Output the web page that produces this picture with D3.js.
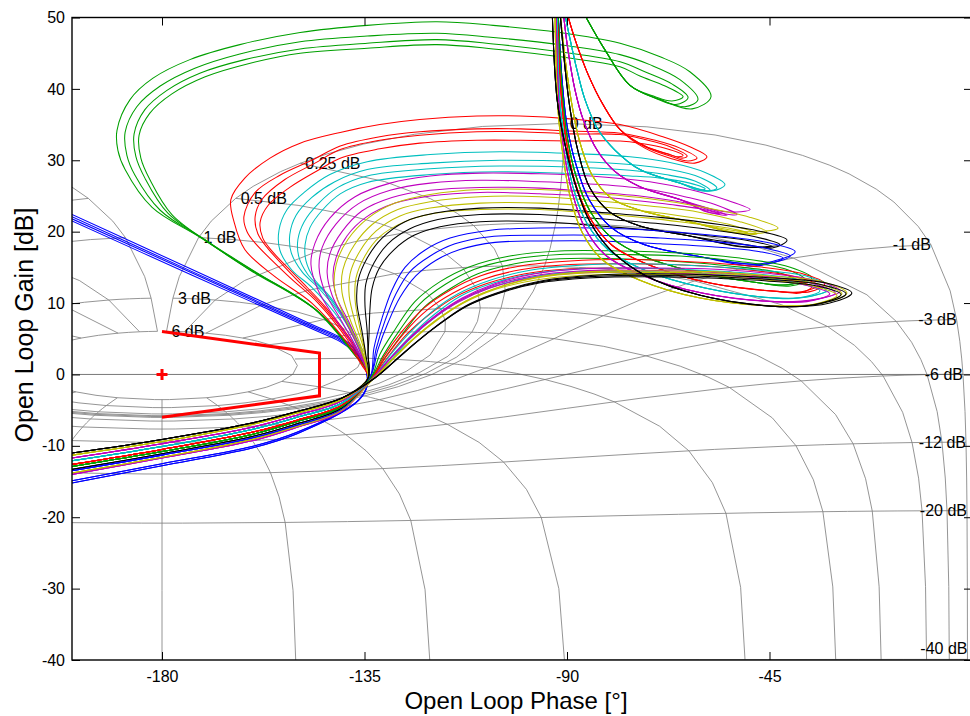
<!DOCTYPE html>
<html><head><meta charset="utf-8">
<script src="https://cdn.jsdelivr.net/npm/d3@7"></script>
<style>
  body { margin: 0; background: #fff; }
  svg text { font-family: Arial, "Liberation Sans", Helvetica, sans-serif; fill: #000; }
</style>
</head>
<body>
<svg id="chart" width="970" height="716"></svg>
<script>
// ---- axis ticks ----
const phaseTicks = [-180, -135, -90, -45];
const gainTicks = [50, 40, 30, 20, 10, 0, -10, -20, -30, -40];

// ---- Nichols grid: labelled closed-loop gains (dB) and closed-loop phases (deg) ----
const clGainLevels = [6, 3, 1, 0.5, 0.25, 0, -1, -3, -6, -12, -20, -40];
const clPhaseLevels = [1, 5, 10, 20, 30, 50, 90, 120, 150, 180];
// sampling used to trace the grid lines
const gainSamples = [6, 3, 2, 1, 0.75, 0.5, 0.4, 0.3, 0.25, 0.2, 0.15, 0.1, 0.05, 0, -0.05, -0.1, -0.15, -0.2, -0.25, -0.3, -0.4, -0.5, -0.75, -1, -2, -3, -4, -5, -6, -9, -12, -16, -20, -30, -40, -50, -60];
const phaseSamples = [1, 2, 3, 4, 5, 7.5, 10, 15, 20, 25, 30, 45, 60, 75, 90, 105, 120, 135, 150, 175, 180];

// ---- stability margin boundary and critical point ----
const marginBound = [[-180, 6], [-145, 3], [-145, -3], [-180, -6]];
const criticalPoint = [-180, 0];

// ---- open-loop responses [phase deg, gain dB] ----
// low-gain branches shared by several responses
const tailA = [[-140,-3.3],[-150,-5.2],[-160,-6.8],[-180,-9.1],[-200,-11.0]];
const tailB = [[-140,-3.5],[-150,-5.4],[-160,-7.0],[-180,-9.4],[-200,-11.3]];
const tailC = [[-140,-3.7],[-150,-5.7],[-160,-7.4],[-180,-9.7],[-200,-11.7]];
const tailD = [[-140,-4.0],[-150,-6.0],[-160,-7.7],[-180,-10.1],[-200,-12.1]];
const tailE = [[-140,-4.3],[-150,-6.4],[-160,-8.1],[-180,-10.5],[-200,-12.6]];
const tailF = [[-140,-4.5],[-150,-6.6],[-160,-8.4],[-180,-10.8],[-200,-12.9]];
const tailG = [[-140,-4.7],[-150,-6.9],[-160,-8.7],[-180,-11.1],[-200,-13.3]];
const tailH = [[-140,-4.9],[-150,-7.1],[-160,-8.9],[-180,-11.3],[-200,-13.5]];
const tailI = [[-140,-5.0],[-150,-7.3],[-160,-9.1],[-180,-11.6],[-200,-13.8]];
const tailJ = [[-140,-5.1],[-150,-7.4],[-160,-9.3],[-180,-11.7],[-200,-14.0]];

// high-gain branches shared inside each family
const gEntry = [[-86.7,51.1],[-81.6,45.5],[-76.0,40.5]];
const rEntry = [[-90.2,51.1],[-88.2,46.9],[-85.3,42.0],[-82.0,37.8],[-78.2,34.3]];
const cEntry = [[-90.7,51.1],[-89.3,46.9],[-87.8,42.7],[-86.0,38.5],[-83.1,34.3],[-79.3,31.4],[-73.8,28.7],[-64.9,26.8]];
const mEntry = [[-90.9,51.1],[-89.8,45.5],[-88.2,39.8],[-86.4,35.7],[-83.3,31.4],[-79.3,28.4],[-73.8,26.3],[-64.9,24.5]];
const yEntry = [[-91.6,51.1],[-90.4,44.1],[-89.1,38.5],[-87.3,32.9],[-84.4,27.9],[-80.2,24.7],[-73.8,23.0],[-62.7,21.4]];
const kEntry = [[-91.6,51.1],[-90.4,42.7],[-89.3,37.1],[-87.6,31.4],[-84.9,26.1],[-80.4,22.7],[-73.8,20.8],[-62.7,19.4]];
const bEntry = [[-92.0,51.1],[-91.1,41.3],[-90.0,34.9],[-88.0,29.4],[-85.1,24.5],[-80.2,20.6],[-72.9,18.2],[-60.4,16.5]];
const g8Entry = [[-92.0,51.1],[-91.1,39.8],[-90.0,33.5],[-88.0,27.8],[-84.9,22.9],[-80.0,19.1],[-71.6,16.2],[-60.4,14.2],[-47.1,12.8]];
const r9Entry = [[-92.2,51.1],[-91.3,39.1],[-90.2,32.9],[-88.2,26.9],[-84.9,21.9],[-80.0,18.1],[-71.6,15.3],[-58.2,12.8],[-42.7,11.6]];
const c10Entry = [[-92.2,51.1],[-91.6,38.5],[-90.4,32.1],[-88.7,26.3],[-85.6,21.2],[-80.9,17.5],[-72.7,14.6],[-59.3,12.1],[-43.8,10.7]];
const m11Entry = [[-92.4,51.1],[-91.8,37.8],[-90.7,31.4],[-88.9,25.6],[-86.0,20.5],[-81.6,16.8],[-73.3,13.9],[-60.0,11.4],[-43.8,10.2]];
const y12Entry = [[-92.7,51.1],[-92.0,37.1],[-90.9,30.7],[-89.3,24.9],[-86.7,20.0],[-82.2,16.1],[-73.8,13.2],[-60.4,10.7],[-43.8,9.6]];
const k13Entry = [[-93.3,51.1],[-92.2,38.5],[-90.4,32.1],[-87.8,25.9],[-84.9,21.4],[-80.4,17.5],[-72.7,13.9],[-60.4,11.1],[-42.7,9.5]];

const blue0a = [[-200,22.4],[-173.3,14.7],[-146.7,7.0],[-140.4,5.2],[-137.1,3.6],[-135.3,1.8],[-134.4,-0.2],[-134.7,-2.2],[-137.1,-4.1],[-150,-8.3],[-160,-10.3],[-180,-12.8],[-200,-15.2]];
const blue0b = [[-200,22.1],[-173.3,14.4],[-146.7,6.8],[-140.4,5.0],[-137.1,3.4],[-135.3,1.7],[-134.4,-0.3],[-134.8,-2.2],[-137.2,-4.1],[-150,-8.3],[-160,-10.3],[-180,-12.8],[-200,-15.2]];
const blue0c = [[-200,21.8],[-173.3,14.2],[-146.7,6.6],[-140.4,4.8],[-137.1,3.2],[-135.2,1.6],[-134.3,-0.3],[-134.7,-2.1],[-137.0,-4.0],[-150,-8.1],[-160,-10.1],[-180,-12.5],[-200,-14.9]];
const blue0d = [[-200,21.5],[-173.3,13.9],[-146.7,6.4],[-140.4,4.6],[-137.1,3.0],[-135.2,1.5],[-134.3,-0.4],[-134.6,-2.0],[-136.9,-3.9],[-150,-8.1],[-160,-10.1],[-180,-12.5],[-200,-14.9]];

const green1a = [...gEntry,[-69.3,38.5],[-62.2,37.2],[-58.0,38.9],[-62.7,42.4],[-69.3,44.5],[-78.2,46.4],[-91.6,47.9],[-106.4,48.9],[-118.9,49.4],[-134.4,48.9],[-149.3,47.9],[-162.7,46.2],[-173.8,44.1],[-182.0,41.5],[-187.1,38.5],[-190.0,34.2],[-189.8,31.4],[-188.2,28.7],[-182.2,23.4],[-171.8,19.3],[-161.6,15.1],[-146.7,9.5],[-138.2,3.5],[-134.2,-0.2],...tailF];
const green1b = [...gEntry,[-69.3,38.5],[-63.8,37.5],[-60.9,38.5],[-64.9,41.3],[-71.6,43.4],[-78.2,44.8],[-91.6,46.2],[-106.4,47.2],[-118.9,47.8],[-134.4,47.4],[-149.3,46.6],[-162.7,44.9],[-172.7,42.9],[-180.4,40.4],[-185.6,37.5],[-188.2,33.9],[-187.8,30.7],[-186.0,27.9],[-180.4,23.0],[-170.4,18.8],[-160.4,14.6],[-145.8,9.0],[-137.6,3.1],[-134.0,-0.3],...tailF];
const green1c = [...gEntry,[-70.4,38.7],[-65.8,37.8],[-63.1,38.8],[-66.7,40.7],[-72.7,42.4],[-78.2,43.8],[-91.6,45.2],[-106.4,46.3],[-118.9,46.9],[-134.4,46.4],[-149.3,45.6],[-161.6,44.1],[-171.6,42.2],[-178.9,39.8],[-183.8,37.1],[-186.2,33.7],[-185.8,30.5],[-183.8,27.5],[-178.7,22.6],[-169.3,18.4],[-159.3,14.4],[-145.3,8.8],[-137.3,2.9],[-134.0,-0.3],...tailF];
const green1d = [...gEntry,[-70.4,38.9],[-66.7,38.3],[-64.2,38.9],[-68.2,40.4],[-73.8,41.8],[-78.2,43.1],[-91.6,44.5],[-106.4,45.6],[-118.9,46.2],[-134.4,45.7],[-149.3,45.0],[-160.4,43.6],[-170.4,41.7],[-177.8,39.3],[-182.7,36.6],[-185.1,33.5],[-184.7,30.3],[-182.7,27.3],[-177.8,22.4],[-168.7,18.1],[-158.7,14.1],[-144.9,8.6],[-137.1,2.7],[-134.0,-0.3],...tailF];

const red2a = [...rEntry,[-72.7,31.7],[-67.1,30.3],[-61.6,29.6],[-58.9,30.5],[-62.7,31.9],[-68.7,33.3],[-78.2,35.0],[-89.3,35.8],[-100.4,36.2],[-110.0,36.2],[-122.7,35.7],[-131.6,35.0],[-140.4,33.9],[-149.3,32.4],[-156.0,30.3],[-161.6,27.5],[-164.7,24.5],[-164.0,21.4],[-161.6,17.5],[-154.9,13.7],[-146.7,10.0],[-139.3,4.8],[-135.6,1.3],[-134.2,-0.5],...tailE];
const red2b = [...rEntry,[-72.7,31.9],[-67.1,30.6],[-63.1,29.9],[-61.1,30.3],[-64.9,31.7],[-70.4,32.8],[-78.2,33.8],[-89.3,34.1],[-100.4,34.4],[-110.0,34.4],[-122.7,34.0],[-131.6,33.3],[-140.4,32.0],[-146.7,30.0],[-153.8,27.9],[-159.3,25.5],[-161.8,22.1],[-161.1,20.0],[-159.3,18.4],[-151.8,13.7],[-145.3,10.0],[-138.7,4.8],[-135.3,1.2],[-134.2,-0.5],...tailE];
const red2c = [...rEntry,[-72.7,32.0],[-67.6,30.9],[-64.4,30.3],[-63.3,30.6],[-67.1,31.9],[-72.7,32.9],[-78.2,33.6],[-89.3,33.7],[-100.4,34.0],[-110.0,34.0],[-122.7,33.5],[-131.6,32.8],[-140.4,31.5],[-146.0,29.6],[-152.7,27.3],[-157.8,24.5],[-159.3,22.1],[-158.7,19.7],[-156.4,17.6],[-150.4,13.5],[-144.4,9.7],[-138.2,4.7],[-134.9,1.2],[-134.2,-0.5],...tailE];
const red2d = [...rEntry,[-72.7,32.0],[-68.2,31.0],[-65.3,30.5],[-64.2,30.7],[-68.2,31.7],[-73.8,32.4],[-78.2,32.7],[-89.3,32.7],[-100.4,32.8],[-110.0,32.8],[-122.7,32.4],[-131.6,31.6],[-140.4,30.3],[-145.3,28.6],[-151.6,26.2],[-156.4,23.7],[-158.2,21.3],[-157.6,19.1],[-155.3,17.1],[-149.3,13.2],[-143.6,9.4],[-137.8,4.6],[-134.9,1.2],[-134.2,-0.5],...tailE];

const cyan3a = [...cEntry,[-57.8,25.7],[-54.9,26.6],[-59.3,28.3],[-67.1,29.7],[-76.0,30.5],[-87.1,30.9],[-104.9,31.2],[-120.4,30.8],[-134.4,29.8],[-142.7,28.0],[-148.2,25.6],[-152.2,23.1],[-154.0,20.2],[-153.8,17.4],[-151.1,14.6],[-146.7,12.2],[-140.4,7.6],[-136.0,2.7],[-134.2,-0.5],...tailD];
const cyan3b = [...cEntry,[-58.7,25.7],[-56.7,26.1],[-60.4,27.6],[-67.1,28.7],[-76.0,29.4],[-87.1,29.8],[-104.9,30.0],[-120.4,29.6],[-134.4,28.7],[-141.6,27.0],[-146.7,24.8],[-150.2,22.3],[-151.6,19.6],[-151.3,17.1],[-148.9,14.4],[-144.9,11.9],[-139.3,7.4],[-135.6,2.6],[-134.2,-0.5],...tailD];
const cyan3c = [...cEntry,[-60.0,25.7],[-58.2,25.8],[-61.6,27.1],[-68.2,28.0],[-76.0,28.6],[-87.1,29.0],[-104.9,29.2],[-120.4,28.8],[-134.4,27.8],[-140.9,26.2],[-145.3,23.9],[-148.4,21.4],[-149.8,18.9],[-149.6,16.5],[-147.6,14.0],[-143.8,11.5],[-138.7,7.0],[-135.3,2.5],[-134.2,-0.5],...tailD];
const cyan3d = [...cEntry,[-60.9,25.8],[-59.3,26.0],[-62.7,26.8],[-69.3,27.5],[-76.0,27.8],[-87.1,28.1],[-104.9,28.4],[-120.4,28.0],[-134.4,26.9],[-140.4,25.3],[-144.4,23.0],[-147.1,20.6],[-148.2,18.2],[-148.0,15.9],[-146.2,13.4],[-142.7,10.9],[-138.2,6.8],[-135.1,2.3],[-134.2,-0.5],...tailD];

const magenta4a = [...mEntry,[-54.9,22.8],[-49.3,23.1],[-54.9,24.5],[-62.7,25.9],[-71.6,27.0],[-82.7,27.7],[-96.0,28.1],[-109.3,28.2],[-120.4,27.8],[-129.3,26.8],[-137.1,24.9],[-142.7,21.9],[-146.0,18.4],[-146.9,15.4],[-145.3,11.8],[-141.6,7.9],[-136.9,3.5],[-134.4,0.6],[-134.2,-0.5],...tailJ];
const magenta4b = [...mEntry,[-56.0,22.6],[-52.2,22.4],[-57.1,23.8],[-63.8,24.9],[-71.6,25.9],[-82.7,26.6],[-96.0,27.0],[-109.3,27.2],[-120.4,26.8],[-129.3,25.8],[-136.4,23.9],[-141.3,21.1],[-144.4,17.8],[-145.1,15.0],[-143.8,11.6],[-140.2,7.6],[-136.4,3.3],[-134.4,0.6],[-134.2,-0.5],...tailJ];
const magenta4c = [...mEntry,[-57.8,22.6],[-54.4,22.3],[-59.3,23.4],[-66.0,24.3],[-73.8,25.0],[-82.7,25.5],[-96.0,26.1],[-109.3,26.2],[-120.4,25.8],[-128.9,24.8],[-135.6,22.9],[-140.0,20.0],[-142.7,16.9],[-143.3,14.2],[-142.2,11.1],[-139.1,7.3],[-136.0,3.2],[-134.4,0.6],[-134.2,-0.5],...tailC];
const magenta4d = [...mEntry,[-59.1,22.8],[-56.0,22.5],[-60.4,23.2],[-67.1,23.8],[-73.8,24.3],[-82.7,24.9],[-96.0,25.3],[-109.3,25.5],[-120.4,25.0],[-128.2,24.0],[-134.7,22.0],[-138.9,19.4],[-141.3,16.4],[-142.0,13.8],[-141.1,10.7],[-138.2,7.0],[-135.6,3.0],[-134.4,0.6],[-134.2,-0.5],...tailC];

const yellow5a = [...yEntry,[-50.4,20.0],[-43.1,20.5],[-49.3,22.0],[-60.4,23.5],[-71.6,24.6],[-82.7,25.3],[-96.0,25.9],[-109.3,25.9],[-120.4,25.2],[-128.2,24.0],[-134.2,21.9],[-138.7,18.9],[-141.3,15.4],[-141.6,11.8],[-139.3,7.9],[-136.0,3.7],[-134.4,0.6],[-134.2,-0.5],...tailI];
const yellow5b = [...yEntry,[-51.6,19.8],[-45.6,20.0],[-51.6,21.4],[-60.4,22.7],[-71.6,23.6],[-82.7,24.3],[-96.0,24.9],[-109.3,24.9],[-120.4,24.2],[-127.6,23.1],[-133.3,21.0],[-137.3,18.1],[-139.8,14.7],[-140.0,11.5],[-138.2,7.7],[-135.6,3.6],[-134.4,0.6],[-134.2,-0.5],...tailI];
const yellow5c = [...yEntry,[-52.7,19.8],[-47.8,19.7],[-52.7,20.8],[-60.4,21.8],[-71.6,22.8],[-82.7,23.5],[-96.0,24.0],[-109.3,24.0],[-120.4,23.3],[-127.1,22.2],[-132.4,20.1],[-136.0,17.3],[-138.2,14.1],[-138.4,11.0],[-137.1,7.4],[-135.1,3.4],[-134.4,0.6],[-134.2,-0.5],...tailB];
const yellow5d = [...yEntry,[-53.8,20.0],[-49.8,19.8],[-54.2,20.5],[-61.6,21.1],[-71.6,21.9],[-82.7,22.5],[-96.0,23.1],[-109.3,23.1],[-120.0,22.5],[-126.4,21.3],[-131.6,19.3],[-134.9,16.6],[-136.9,13.5],[-137.1,10.5],[-136.2,7.0],[-134.9,3.2],[-134.4,0.6],[-134.2,-0.5],...tailB];

const black6a = [...kEntry,[-49.3,18.1],[-44.4,17.7],[-41.1,18.8],[-46.0,19.9],[-56.0,21.0],[-69.3,22.0],[-82.7,22.7],[-96.0,23.3],[-109.3,23.3],[-119.3,22.6],[-126.0,21.4],[-131.1,19.1],[-134.4,16.3],[-136.4,13.2],[-136.7,10.1],[-135.6,6.2],[-134.7,2.7],[-134.2,-0.5],...tailG];
const black6b = [...kEntry,[-50.4,17.9],[-42.7,18.2],[-48.2,19.3],[-57.1,20.2],[-69.3,21.1],[-82.7,21.8],[-96.0,22.4],[-109.3,22.4],[-118.7,21.7],[-124.9,20.4],[-129.8,18.3],[-132.9,15.6],[-134.7,12.7],[-134.9,9.8],[-134.4,6.0],[-134.2,2.7],[-134.2,-0.5],...tailG];
const black6c = [...kEntry,[-51.6,17.9],[-44.4,17.9],[-49.3,18.7],[-58.2,19.4],[-69.3,20.1],[-82.7,20.8],[-96.0,21.4],[-109.3,21.4],[-118.2,20.7],[-124.0,19.5],[-128.4,17.5],[-131.6,15.0],[-133.3,12.1],[-133.8,9.0],[-134.0,5.5],[-134.2,2.7],[-134.2,-0.5],...tailA];

const blue7a = [...bEntry,[-47.1,15.5],[-39.3,17.2],[-44.9,18.4],[-56.0,19.4],[-69.3,20.1],[-82.7,20.5],[-96.0,20.5],[-107.1,20.2],[-116.0,19.1],[-121.6,17.4],[-126.0,15.0],[-128.9,11.8],[-131.1,7.9],[-132.9,3.7],[-133.8,-0.5],...tailH];
const blue7b = [...bEntry,[-47.1,15.4],[-40.4,16.6],[-46.0,17.7],[-57.1,18.6],[-69.3,19.1],[-82.7,19.5],[-96.0,19.5],[-107.1,19.3],[-114.9,18.3],[-120.4,16.6],[-124.9,14.4],[-128.0,11.3],[-130.4,7.6],[-132.4,3.6],[-133.8,-0.5],...tailH];
const blue7c = [...bEntry,[-48.2,15.2],[-42.0,16.3],[-47.1,17.2],[-57.8,17.9],[-69.3,18.3],[-82.7,18.7],[-96.0,18.7],[-106.0,18.5],[-113.8,17.5],[-119.1,16.0],[-123.6,13.8],[-127.1,10.8],[-129.8,7.2],[-132.0,3.5],[-133.8,-0.5],...tailH];

const green8a = [...g8Entry,[-40.4,12.4],[-35.6,13.5],[-40.4,15.0],[-51.6,16.3],[-64.9,17.0],[-78.2,17.3],[-91.6,17.3],[-102.7,16.6],[-111.6,15.1],[-118.2,13.0],[-123.8,10.2],[-128.2,6.3],[-131.6,2.8],[-133.6,-0.5],...tailF];
const green8b = [...g8Entry,[-40.9,12.6],[-37.1,13.3],[-41.6,14.8],[-52.7,15.9],[-64.9,16.6],[-78.2,16.8],[-91.6,16.8],[-102.2,16.1],[-110.7,14.7],[-117.1,12.6],[-122.7,9.9],[-127.3,6.1],[-130.9,2.6],[-133.6,-0.5],...tailF];
const green8c = [...g8Entry,[-42.2,12.5],[-38.7,13.0],[-42.7,14.2],[-53.8,15.2],[-64.9,15.8],[-78.2,16.2],[-91.6,16.2],[-101.6,15.5],[-109.8,14.1],[-116.0,12.0],[-121.6,9.5],[-126.4,5.8],[-130.4,2.4],[-133.6,-0.5],...tailF];

const red9a = [...r9Entry,[-36.0,11.6],[-32.7,12.7],[-38.2,14.2],[-49.3,15.2],[-62.7,15.8],[-76.0,16.1],[-89.3,15.9],[-100.4,15.2],[-109.3,13.8],[-116.0,11.8],[-121.8,9.3],[-126.7,6.0],[-130.7,2.5],[-133.3,-0.5],...tailE];
const red9b = [...r9Entry,[-37.6,11.6],[-34.2,12.5],[-39.3,13.7],[-50.4,14.7],[-62.7,15.3],[-76.0,15.5],[-89.3,15.4],[-100.0,14.7],[-108.7,13.3],[-115.3,11.4],[-121.1,9.0],[-126.2,5.8],[-130.4,2.3],[-133.3,-0.5],...tailE];
const red9c = [...r9Entry,[-38.2,11.4],[-35.6,12.3],[-40.4,13.2],[-51.6,14.1],[-62.7,14.6],[-76.0,14.9],[-89.3,14.8],[-99.3,14.1],[-108.0,12.7],[-114.7,10.9],[-120.4,8.5],[-125.8,5.5],[-130.2,2.1],[-133.3,-0.5],...tailE];

const cyan10a = [...c10Entry,[-35.6,11.0],[-31.1,12.1],[-36.4,13.7],[-47.1,14.6],[-60.4,15.2],[-73.8,15.5],[-87.1,15.3],[-98.2,14.6],[-107.1,13.2],[-114.2,11.3],[-120.0,8.8],[-125.3,5.6],[-129.8,2.3],[-133.1,-0.5],...tailD];
const cyan10b = [...c10Entry,[-37.1,10.8],[-32.4,11.8],[-37.8,13.2],[-48.2,14.1],[-60.4,14.6],[-73.8,14.9],[-87.1,14.8],[-97.8,14.1],[-106.4,12.8],[-113.6,11.0],[-119.3,8.5],[-124.9,5.3],[-129.6,2.1],[-133.1,-0.5],...tailD];
const cyan10c = [...c10Entry,[-38.7,10.7],[-33.8,11.7],[-38.9,12.8],[-49.3,13.7],[-61.6,14.2],[-74.9,14.4],[-87.1,14.4],[-97.3,13.7],[-106.0,12.4],[-113.1,10.6],[-118.9,8.2],[-124.7,5.1],[-129.3,1.9],[-133.1,-0.5],...tailD];

const magenta11a = [...m11Entry,[-34.2,10.6],[-29.3,11.7],[-34.9,13.2],[-46.0,14.2],[-59.3,14.8],[-72.7,14.9],[-86.0,14.8],[-97.1,14.1],[-106.0,12.7],[-113.3,10.7],[-119.1,8.3],[-124.7,5.3],[-129.3,2.2],[-133.1,-0.5],...tailC];
const magenta11b = [...m11Entry,[-35.6,10.4],[-30.4,11.4],[-35.8,12.8],[-47.1,13.8],[-60.4,14.4],[-73.8,14.6],[-87.1,14.5],[-97.8,13.8],[-106.7,12.4],[-113.8,10.4],[-119.6,8.0],[-125.1,5.0],[-129.6,2.0],[-133.1,-0.5],...tailC];
const magenta11c = [...m11Entry,[-36.7,10.2],[-31.6,11.3],[-36.9,12.5],[-48.0,13.5],[-61.1,14.1],[-74.4,14.3],[-87.6,14.2],[-98.2,13.5],[-107.1,12.1],[-114.2,10.1],[-120.0,7.7],[-125.3,4.8],[-129.8,1.9],[-133.1,-0.5],...tailJ];

const yellow12a = [...y12Entry,[-33.1,10.0],[-27.8,11.4],[-33.3,13.0],[-44.9,13.8],[-58.2,14.4],[-71.6,14.5],[-84.9,14.4],[-96.0,13.7],[-104.9,12.3],[-112.4,10.3],[-118.2,7.9],[-124.0,5.0],[-128.9,2.0],[-132.9,-0.5],...tailB];
const yellow12b = [...y12Entry,[-34.4,9.9],[-28.9,11.3],[-34.4,12.7],[-46.0,13.6],[-59.3,14.2],[-72.7,14.3],[-86.0,14.2],[-96.9,13.5],[-105.6,12.1],[-113.1,10.1],[-118.9,7.7],[-124.4,4.8],[-129.1,1.9],[-132.9,-0.5],...tailB];
const yellow12c = [...y12Entry,[-35.3,9.8],[-30.0,11.1],[-35.3,12.4],[-46.9,13.3],[-60.0,13.9],[-73.3,14.0],[-86.4,13.9],[-97.3,13.2],[-106.0,11.9],[-113.3,9.9],[-119.1,7.6],[-124.7,4.7],[-129.3,1.8],[-132.9,-0.5],...tailI];

const black13a = [...k13Entry,[-31.6,10.0],[-26.7,11.4],[-32.4,12.8],[-43.8,13.5],[-57.1,13.9],[-70.4,14.1],[-83.8,13.9],[-94.9,13.2],[-103.8,11.8],[-111.6,9.9],[-117.3,7.6],[-123.1,4.7],[-128.2,1.9],[-132.7,-0.5],...tailA];
const black13b = [...k13Entry,[-33.8,9.9],[-28.0,11.3],[-33.6,12.6],[-44.9,13.3],[-58.2,13.7],[-71.3,13.9],[-84.7,13.7],[-95.6,13.0],[-104.4,11.6],[-112.0,9.7],[-117.6,7.4],[-123.3,4.6],[-128.4,1.8],[-132.7,-0.5],...tailA];
const black13c = [...k13Entry,[-34.9,9.8],[-29.1,11.2],[-34.4,12.4],[-45.6,13.1],[-58.9,13.5],[-72.0,13.7],[-85.3,13.5],[-96.2,12.8],[-104.9,11.4],[-112.4,9.5],[-118.0,7.2],[-123.6,4.5],[-128.7,1.7],[-132.7,-0.5],...tailA];

// response families in drawing order, keyed by line colour letter
const families = [
  ['b', [blue0a, blue0b, blue0c, blue0d]],
  ['g', [green1a, green1b, green1c, green1d]],
  ['r', [red2a, red2b, red2c, red2d]],
  ['c', [cyan3a, cyan3b, cyan3c, cyan3d]],
  ['m', [magenta4a, magenta4b, magenta4c, magenta4d]],
  ['y', [yellow5a, yellow5b, yellow5c, yellow5d]],
  ['k', [black6a, black6b, black6c]],
  ['b', [blue7a, blue7b, blue7c]],
  ['g', [green8a, green8b, green8c]],
  ['r', [red9a, red9b, red9c]],
  ['c', [cyan10a, cyan10b, cyan10c]],
  ['m', [magenta11a, magenta11b, magenta11c]],
  ['y', [yellow12a, yellow12b, yellow12c]],
  ['k', [black13a, black13b, black13c]]
];

// ---------------- drawing ----------------
const lineColor = { b: '#0000ff', g: '#00a000', r: '#ff0000', c: '#00bfbf', m: '#bf00bf', y: '#bfbf00', k: '#000000' };
const X0 = 72, X1 = 972, Y0 = 17.5, Y1 = 660;
const x = d3.scaleLinear().domain([-200, 0]).range([X0, X1]);
const y = d3.scaleLinear().domain([-40, 50]).range([Y1, Y0]);
const plainNumber = d => String(d);

const svg = d3.select('#chart');
svg.append('rect').attr('width', 970).attr('height', 716).attr('fill', '#fff');
svg.append('defs').append('clipPath').attr('id', 'plotClip')
  .append('rect').attr('x', X0).attr('y', Y0).attr('width', X1 - X0).attr('height', Y1 - Y0);
const plot = svg.append('g').attr('clip-path', 'url(#plotClip)');

// open-loop point (phase deg, gain dB) that gives closed-loop gain mdb and phase thDeg
function openLoopPoint(mdb, thDeg) {
  const M = Math.pow(10, mdb / 20), th = thDeg * Math.PI / 180;
  const dr = 1 - M * Math.cos(th), di = -M * Math.sin(th);
  const ph = thDeg - Math.atan2(di, dr) * 180 / Math.PI;
  return [ph, 20 * Math.log10(M / Math.hypot(dr, di))];
}
const gridLine = d3.line().x(d => x(d[0])).y(d => y(d[1])).defined(d => isFinite(d[0]) && isFinite(d[1]));

const thetaPath = [...phaseSamples.map(p => -p), ...phaseSamples.slice(0, -1).reverse().map(p => p - 360)];
const gridG = plot.append('g').attr('fill', 'none').attr('stroke', '#7a7a7a').attr('stroke-width', 0.8);
// constant closed-loop gain contours
clGainLevels.forEach(m => {
  gridG.append('path').attr('d', gridLine(thetaPath.map(t => openLoopPoint(m, t))));
});
// constant closed-loop phase contours
clPhaseLevels.forEach(p => {
  const thetas = p === 180 ? [-180] : [-p, p - 360];
  thetas.forEach(t => {
    gridG.append('path').attr('d', gridLine(gainSamples.map(m => openLoopPoint(m, t))));
  });
});
// 0 dB line
gridG.append('line').attr('x1', X0).attr('x2', X1).attr('y1', y(0)).attr('y2', y(0)).attr('stroke', '#555');

// contour labels
const labelG = plot.append('g').style('font-size', '16px');
clGainLevels.forEach(m => {
  const pt = openLoopPoint(m, -1);
  const px = x(pt[0]);
  const py = Math.min(y(pt[1]), Y1 - 12);
  labelG.append('text')
    .attr('x', m >= 0 ? px + 5 : px)
    .attr('y', py).attr('dy', '0.35em')
    .attr('text-anchor', m >= 0 ? 'start' : 'end')
    .text(m + ' dB');
});

// open-loop responses
const respLine = d3.line().x(d => x(d[0])).y(d => y(d[1])).curve(d3.curveCatmullRom.alpha(0.5));
families.forEach(([key, set]) => {
  set.forEach(pts => {
    plot.append('path').attr('d', respLine(pts))
      .attr('fill', 'none').attr('stroke', lineColor[key]).attr('stroke-width', 1.05);
  });
});

// stability margin boundary and critical point
plot.append('path').attr('d', d3.line().x(d => x(d[0])).y(d => y(d[1]))(marginBound))
  .attr('fill', 'none').attr('stroke', '#ff0000').attr('stroke-width', 3);
plot.append('path')
  .attr('transform', `translate(${x(criticalPoint[0])},${y(criticalPoint[1])})`)
  .attr('d', 'M-5.5,0H5.5M0,-5.5V5.5')
  .attr('stroke', '#ff0000').attr('stroke-width', 3);

// axes with inward ticks
function styleAxis(g) {
  g.select('.domain').remove();
  g.selectAll('.tick line').attr('stroke', '#000').attr('stroke-width', 1);
  g.selectAll('.tick text').style('font-size', '16px').attr('fill', '#000')
    .style('font-family', 'Arial, "Liberation Sans", sans-serif');
}
svg.append('g').attr('transform', `translate(0,${Y1})`)
  .call(d3.axisBottom(x).tickValues(phaseTicks).tickFormat(plainNumber).tickSize(-8).tickPadding(11)).call(styleAxis);
svg.append('g').attr('transform', `translate(0,${Y0})`)
  .call(d3.axisTop(x).tickValues(phaseTicks).tickSize(-8).tickFormat('')).call(styleAxis);
svg.append('g').attr('transform', `translate(${X0},0)`)
  .call(d3.axisLeft(y).tickValues(gainTicks).tickFormat(plainNumber).tickSize(-8).tickPadding(7)).call(styleAxis);
svg.append('g').attr('transform', `translate(${X1},0)`)
  .call(d3.axisRight(y).tickValues(gainTicks).tickSize(-8).tickFormat('')).call(styleAxis);
svg.append('rect').attr('x', X0).attr('y', Y0).attr('width', X1 - X0).attr('height', Y1 - Y0)
  .attr('fill', 'none').attr('stroke', '#000').attr('stroke-width', 1.4);

// axis titles
svg.append('text').attr('x', 516).attr('y', 709).attr('text-anchor', 'middle')
  .style('font-size', '24px').text('Open Loop Phase [°]');
svg.append('text').attr('transform', 'translate(33,325) rotate(-90)').attr('text-anchor', 'middle')
  .style('font-size', '25px').text('Open Loop Gain [dB]');
</script>
</body></html>
